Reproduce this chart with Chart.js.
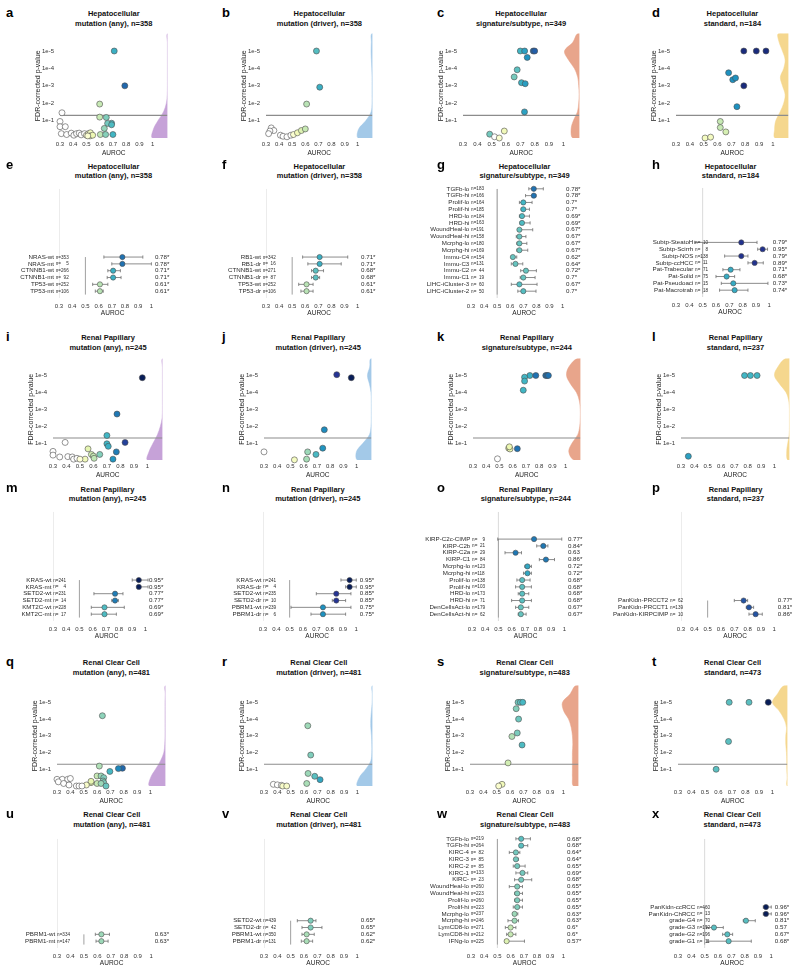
<!DOCTYPE html>
<html>
<head>
<meta charset="utf-8">
<script src="https://cdn.jsdelivr.net/npm/chart.js@4.4.1/dist/chart.umd.min.js"></script>
<style>
  html, body { margin: 0; padding: 0; background: #fff; }
  #figure { position: relative; width: 800px; height: 971px; overflow: hidden; font-family: "Liberation Sans", Arial, Helvetica, sans-serif; }
  #figure canvas { position: absolute; }
  .letter { position: absolute; font-weight: bold; font-size: 13px; line-height: 13px; color: #000; }
  .title { position: absolute; text-align: center; font-weight: bold; font-size: 7.5px; line-height: 9.4px; color: #111; white-space: nowrap; }
</style>
</head>
<body>
<div id="figure"></div>
<script>
// ---------- shared axis values ----------
const X_TICKS = [0.3, 0.4, 0.5, 0.6, 0.7, 0.8, 0.9, 1];
const P_TICKS = [1, 2, 3, 4, 5];            // -log10 p, labelled 1e-1 ... 1e-5
const VIOLIN_LEVELS = [0, 0.5, 1, 1.5, 2, 2.5, 3, 3.5, 4, 4.5, 5, 5.5, 6];
const P_THRESHOLD = 1.301;                  // -log10(0.05)

// ---------- scatter panels: AUROC vs -log10(FDR p) ----------
// a  Hepatocellular, mutation (any)
const aAuroc = [0.71, 0.79, 0.60, 0.60, 0.65, 0.69, 0.66, 0.69, 0.635, 0.605, 0.645, 0.70, 0.315, 0.30, 0.30, 0.34, 0.31, 0.35, 0.385, 0.405, 0.425, 0.445, 0.46, 0.485, 0.50, 0.515, 0.53, 0.527, 0.547, 0.51];
const aLogP  = [5.0, 3.0, 1.95, 1.2, 1.18, 0.85, 0.84, 0.76, 0.55, 0.2, 0.2, 0.2, 1.45, 0.95, 0.65, 0.65, 0.25, 0.2, 0.28, 0.16, 0.25, 0.28, 0.18, 0.25, 0.16, 0.25, 0.3, 0.12, 0.16, 0.12];
const aViolin = [0.113, 0.106, 0.071, 0.030, 0.008, 0.001, 0, 0, 0, 0, 0, 0, 0];
// b  Hepatocellular, mutation (driver)
const bAuroc = [0.685, 0.71, 0.61, 0.34, 0.36, 0.33, 0.32, 0.41, 0.43, 0.46, 0.49, 0.51, 0.54, 0.57, 0.60];
const bLogP  = [5.0, 2.92, 1.95, 0.58, 0.43, 0.4, 0.25, 0.16, 0.1, 0.07, 0.16, 0.2, 0.3, 0.43, 0.52];
const bViolin = [0.108, 0.106, 0.05, 0.01, 0.003, 0.003, 0.003, 0.003, 0.005, 0.008, 0.01, 0.008, 0.005];
// c  Hepatocellular, signature/subtype
const cAuroc = [0.70, 0.73, 0.79, 0.80, 0.748, 0.678, 0.657, 0.708, 0.734, 0.729, 0.486, 0.52, 0.553, 0.588];
const cLogP  = [5, 5, 5, 5, 4.63, 3.92, 3.51, 3.18, 3.12, 1.5, 0.22, 0.07, 0.0, 0.4];
const cTone  = [0.70, 0.73, 0.79, 0.80, 0.748, 0.678, 0.657, 0.708, 0.734, 0.729, 0.66, 0.49, 0.51, 0.54];
const cViolin = [0.046, 0.058, 0.042, 0.014, 0.005, 0.002, 0.005, 0.012, 0.035, 0.077, 0.104, 0.046, 0.012];
// d  Hepatocellular, standard
const dAuroc = [0.79, 0.88, 0.95, 0.68, 0.71, 0.73, 0.79, 0.74, 0.62, 0.62, 0.66, 0.51, 0.55];
const dLogP  = [5, 5, 5, 3.75, 3.35, 3.45, 3.0, 1.8, 0.95, 0.6, 0.35, 0.0, 0.05];
const dTone  = [0.87, 0.87, 0.87, 0.75, 0.75, 0.75, 0.87, 0.75, 0.6, 0.6, 0.58, 0.53, 0.53];
const dViolin = [0.096, 0.100, 0.091, 0.060, 0.034, 0.024, 0.043, 0.058, 0.034, 0.024, 0.043, 0.067, 0.072];
// i  Renal Papillary, mutation (any)
const iAuroc = [0.963, 0.775, 0.70, 0.70, 0.71, 0.835, 0.77, 0.745, 0.647, 0.56, 0.585, 0.60, 0.605, 0.538, 0.39, 0.30, 0.30, 0.35, 0.41, 0.443, 0.453, 0.478, 0.50];
const iLogP  = [4.87, 2.72, 1.45, 0.96, 0.81, 1.04, 0.48, 0.05, 0.33, 0.66, 0.33, 0.23, 0.1, 0.05, 1.04, 0.51, 0.29, 0.18, 0.2, 0.18, 0.05, 0.1, 0.05];
const iViolin = [0.111, 0.099, 0.069, 0.037, 0.015, 0.002, 0, 0, 0, 0, 0, 0, 0];
// j  Renal Papillary, mutation (driver)
const jAuroc = [0.85, 0.96, 0.756, 0.744, 0.693, 0.63, 0.622, 0.53, 0.30];
const jLogP  = [5.05, 4.87, 1.79, 0.7, 0.33, 0.48, 0.05, 0.01, 0.48];
const jViolin = [0.105, 0.113, 0.063, 0.015, 0.003, 0.001, 0.001, 0.001, 0.003, 0.015, 0.030, 0.013, 0.005];
// k  Renal Papillary, signature/subtype
const kAuroc = [0.73, 0.775, 0.85, 0.86, 0.87, 0.69, 0.69, 0.68, 0.635, 0.57, 0.58, 0.575, 0.485];
const kLogP  = [5, 5, 5, 5, 5, 4.9, 4.67, 4.13, 0.67, 0.7, 0.65, 0.78, 0.07];
const kTone  = [0.71, 0.78, 0.78, 0.78, 0.78, 0.70, 0.70, 0.70, 0.78, 0.55, 0.55, 0.55, 0.485];
const kViolin = [0.050, 0.088, 0.063, 0.020, 0.005, 0.001, 0.001, 0.008, 0.030, 0.075, 0.105, 0.088, 0.025];
// l  Renal Papillary, standard
const lAuroc = [0.776, 0.82, 0.87, 0.355];
const lLogP  = [5, 5, 5, 0.22];
const lTone  = [0.70, 0.70, 0.70, 0.73];
const lViolin = [0.012, 0.020, 0.012, 0.002, 0, 0, 0, 0.005, 0.025, 0.074, 0.112, 0.087, 0.030];
// q  Renal Clear Cell, mutation (any)
const qAuroc = [0.64, 0.617, 0.79, 0.76, 0.696, 0.60, 0.63, 0.65, 0.645, 0.65, 0.60, 0.63, 0.667, 0.555, 0.555, 0.52, 0.30, 0.34, 0.38, 0.40, 0.31, 0.35, 0.39, 0.445, 0.465, 0.487];
const qLogP  = [4.2, 1.19, 1.06, 1.04, 0.87, 0.6, 0.6, 0.5, 0.3, 0.2, 0.15, 0.15, 0.0, 0.2, 0.28, 0.06, 0.4, 0.4, 0.4, 0.45, 0.25, 0.15, 0.06, 0.0, 0.0, 0.0];
const qViolin = [0.119, 0.111, 0.074, 0.037, 0.012, 0.005, 0.003, 0.003, 0.003, 0.003, 0.003, 0.001, 0.001];
// r  Renal Clear Cell, mutation (driver)
const rAuroc = [0.628, 0.65, 0.63, 0.68, 0.72, 0.62, 0.37, 0.40, 0.43, 0.44, 0.47];
const rLogP  = [3.6, 1.85, 0.75, 0.58, 0.38, 0.15, 0.1, 0.07, 0.04, 0.0, 0.0];
const rTone  = [0.628, 0.65, 0.63, 0.68, 0.72, 0.62, 0.37, 0.40, 0.43, 0.52, 0.52];
const rViolin = [0.112, 0.099, 0.050, 0.012, 0.005, 0.005, 0.007, 0.012, 0.012, 0.007, 0.002, 0.001, 0.001];
// s  Renal Clear Cell, signature/subtype
const sAuroc = [0.66, 0.677, 0.695, 0.646, 0.664, 0.654, 0.614, 0.69, 0.585, 0.54, 0.515];
const sLogP  = [5, 5, 5, 4.62, 4.0, 3.17, 2.96, 2.45, 1.38, 0.1, 0.0];
const sViolin = [0.037, 0.045, 0.045, 0.045, 0.045, 0.042, 0.045, 0.054, 0.074, 0.111, 0.119, 0.062, 0.020];
// t  Renal Clear Cell, standard
const tAuroc = [0.68, 0.827, 0.97, 0.675, 0.583];
const tLogP  = [5, 5, 5, 2.66, 1.0];
const tTone  = [0.68, 0.68, 0.97, 0.68, 0.68];
const tViolin = [0.002, 0.002, 0.005, 0.005, 0.007, 0.012, 0.012, 0.007, 0.025, 0.062, 0.111, 0.074, 0.025];

// ---------- forest panels: AUROC with 95% CI per class ----------
const eLabels = ['NRAS-wt', 'NRAS-mt', 'CTNNB1-wt', 'CTNNB1-mt', 'TP53-wt', 'TP53-mt'];
const eN      = [353, 5, 266, 92, 252, 106];
const eAuroc  = [0.78, 0.78, 0.71, 0.71, 0.61, 0.61];
const eLow    = [0.64, 0.70, 0.67, 0.665, 0.555, 0.575];
const eHigh   = [0.935, 1.0, 0.765, 0.77, 0.67, 0.635];
const eSig    = [1, 1, 1, 1, 1, 1];

const fLabels = ['RB1-wt', 'RB1-dr', 'CTNNB1-wt', 'CTNNB1-dr', 'TP53-wt', 'TP53-dr'];
const fN      = [342, 16, 271, 87, 252, 106];
const fAuroc  = [0.71, 0.71, 0.68, 0.68, 0.61, 0.61];
const fLow    = [0.58, 0.62, 0.648, 0.648, 0.55, 0.567];
const fHigh   = [0.925, 0.875, 0.74, 0.71, 0.66, 0.66];
const fSig    = [1, 1, 1, 1, 1, 1];

const gLabels = ['TGFb-lo', 'TGFb-hi', 'Prolif-lo', 'Prolif-hi', 'HRD-lo', 'HRD-hi', 'WoundHeal-lo', 'WoundHeal-hi', 'Mcrphg-lo', 'Mcrphg-hi', 'Immu-C4', 'Immu-C3', 'Immu-C2', 'Immu-C1', 'LIHC-iCluster-3', 'LIHC-iCluster-2'];
const gN      = [183, 166, 164, 185, 184, 163, 191, 158, 180, 169, 154, 131, 44, 19, 60, 50];
const gAuroc  = [0.78, 0.78, 0.7, 0.7, 0.69, 0.69, 0.67, 0.67, 0.67, 0.67, 0.62, 0.64, 0.72, 0.7, 0.67, 0.7];
const gLow    = [0.742, 0.717, 0.67, 0.684, 0.67, 0.676, 0.658, 0.646, 0.65, 0.65, 0.615, 0.608, 0.68, 0.676, 0.608, 0.658];
const gHigh   = [0.853, 0.797, 0.767, 0.747, 0.747, 0.752, 0.772, 0.72, 0.727, 0.734, 0.65, 0.696, 0.80, 0.79, 0.805, 0.797];
const gSig    = [1, 1, 1, 1, 1, 1, 1, 1, 1, 1, 1, 1, 1, 1, 1, 1];

const hLabels = ['Subtp-SteatoH', 'Subtp-Scirrh', 'Subtp-NOS', 'Subtp-ccHCC', 'Pat-Trabecular', 'Pat-Solid', 'Pat-Pseudoaci', 'Pat-Macrotrab'];
const hN      = [10, 8, 138, 11, 71, 75, 15, 18];
const hAuroc  = [0.79, 0.95, 0.79, 0.89, 0.71, 0.68, 0.73, 0.74];
const hLow    = [0.44, 0.913, 0.665, 0.84, 0.652, 0.60, 0.64, 0.627];
const hHigh   = [0.908, 0.987, 0.84, 0.955, 0.78, 0.74, 0.99, 0.84];
const hSig    = [1, 1, 1, 1, 1, 1, 1, 1];

const mLabels = ['KRAS-wt', 'KRAS-mt', 'SETD2-wt', 'SETD2-mt', 'KMT2C-wt', 'KMT2C-mt'];
const mN      = [241, 4, 231, 14, 228, 17];
const mAuroc  = [0.95, 0.95, 0.77, 0.77, 0.69, 0.69];
const mLow    = [0.90, 0.945, 0.61, 0.745, 0.59, 0.59];
const mHigh   = [1.02, 1.02, 0.83, 0.795, 0.84, 0.78];
const mSig    = [1, 1, 1, 1, 1, 1];

const nLabels = ['KRAS-wt', 'KRAS-dr', 'SETD2-wt', 'SETD2-dr', 'PBRM1-wt', 'PBRM1-dr'];
const nN      = [241, 4, 235, 10, 239, 6];
const nAuroc  = [0.95, 0.95, 0.85, 0.85, 0.75, 0.75];
const nLow    = [0.885, 0.92, 0.70, 0.82, 0.51, 0.66];
const nHigh   = [1.0, 1.0, 0.96, 0.92, 0.96, 0.92];
const nSig    = [1, 1, 1, 1, 1, 1];

const oLabels = ['KIRP-C2c-CIMP', 'KIRP-C2b', 'KIRP-C2a', 'KIRP-C1', 'Mcrphg-lo', 'Mcrphg-hi', 'Prolif-lo', 'Prolif-hi', 'HRD-lo', 'HRD-hi', 'DenCellsAct-lo', 'DenCellsAct-hi'];
const oN      = [9, 21, 29, 84, 123, 118, 138, 103, 173, 71, 179, 62];
const oAuroc  = [0.77, 0.84, 0.63, 0.86, 0.72, 0.72, 0.68, 0.68, 0.68, 0.68, 0.67, 0.67];
const oLow    = [0.495, 0.79, 0.55, 0.81, 0.70, 0.69, 0.64, 0.63, 0.65, 0.60, 0.63, 0.65];
const oHigh   = [0.98, 0.875, 0.675, 0.925, 0.75, 0.75, 0.74, 0.75, 0.73, 0.75, 0.73, 0.71];
const oSig    = [1, 1, 0, 1, 1, 1, 1, 1, 1, 1, 1, 1];

const pLabels = ['PanKidn-PRCCT2', 'PanKidn-PRCCT1', 'PanKidn-KIRPCIMP'];
const pN      = [62, 139, 10];
const pAuroc  = [0.77, 0.81, 0.86];
const pLow    = [0.70, 0.79, 0.81];
const pHigh   = [0.80, 0.845, 0.91];
const pSig    = [1, 1, 1];

const uLabels = ['PBRM1-wt', 'PBRM1-mt'];
const uN      = [334, 147];
const uAuroc  = [0.63, 0.63];
const uLow    = [0.585, 0.59];
const uHigh   = [0.69, 0.68];
const uSig    = [1, 1];

const vLabels = ['SETD2-wt', 'SETD2-dr', 'PBRM1-wt', 'PBRM1-dr'];
const vN      = [439, 42, 350, 131];
const vAuroc  = [0.65, 0.65, 0.62, 0.62];
const vLow    = [0.55, 0.585, 0.585, 0.58];
const vHigh   = [0.69, 0.735, 0.677, 0.665];
const vSig    = [1, 1, 1, 1];

const wLabels = ['TGFb-lo', 'TGFb-hi', 'KIRC-4', 'KIRC-3', 'KIRC-2', 'KIRC-1', 'KIRC-', 'WoundHeal-lo', 'WoundHeal-hi', 'Prolif-lo', 'Prolif-hi', 'Mcrphg-lo', 'Mcrphg-hi', 'LymCD8-lo', 'LymCD8-hi', 'IFNg-lo'];
const wN      = [219, 264, 82, 85, 85, 133, 23, 260, 223, 260, 223, 237, 246, 271, 212, 225];
const wAuroc  = [0.68, 0.68, 0.64, 0.64, 0.65, 0.69, 0.68, 0.65, 0.65, 0.65, 0.65, 0.63, 0.63, 0.6, 0.6, 0.57];
const wLow    = [0.64, 0.67, 0.59, 0.63, 0.62, 0.64, 0.63, 0.59, 0.63, 0.63, 0.62, 0.62, 0.58, 0.56, 0.57, 0.555];
const wHigh   = [0.75, 0.73, 0.67, 0.66, 0.71, 0.73, 0.76, 0.69, 0.69, 0.69, 0.69, 0.655, 0.66, 0.64, 0.64, 0.705];
const wSig    = [1, 1, 1, 1, 1, 1, 1, 1, 1, 1, 1, 1, 1, 1, 1, 1];

const xLabels = ['PanKidn-ccRCC', 'PanKidn-ChRCC', 'grade-G4', 'grade-G3', 'grade-G2', 'grade-G1'];
const xN      = [460, 13, 70, 192, 196, 11];
const xAuroc  = [0.96, 0.96, 0.81, 0.57, 0.67, 0.68];
const xLow    = [0.94, 0.94, 0.79, 0.515, 0.635, 0.52];
const xHigh   = [1.0, 1.0, 0.88, 0.64, 0.71, 0.85];
const xSig    = [1, 1, 1, 0, 1, 1];

// ---------- styling ----------
const FONT = '"Liberation Sans", Arial, Helvetica, sans-serif';
const X_MIN = 0.3;
const X_MAX = 1.112;
const YLGNBU = ['#ffffd9', '#edf8b1', '#c7e9b4', '#7fcdbb', '#41b6c4', '#1d91c0', '#225ea8', '#253494', '#081d58'];
const VIOLIN_COLORS = { any: '#c6a2d8', driver: '#a3c9e8', signature: '#e8a58b', standard: '#f5d78e' };

const SC_LEFT = 62;     // room left of plot for p-value ticks and title
const PAD_TOP = 4;
const PAD_RIGHT = 4;
const AXIS_H = 22;      // room under plot for AUROC ticks and title
const F_LEFT = 68;      // room left of forest plot for row names
const ROW = 6.85;       // forest row pitch, px
const F_SLOTS = 16;

function hexToRgb(h) {
  const n = parseInt(h.slice(1), 16);
  return [(n >> 16) & 255, (n >> 8) & 255, n & 255];
}

// map an AUROC-like tone onto YlGnBu, white below 0.5
function toneColor(v) {
  if (v < 0.5) return '#ffffff';
  const t = Math.min(1, (v - 0.5) / 0.4) * (YLGNBU.length - 1);
  const i = Math.min(YLGNBU.length - 2, Math.floor(t));
  const f = t - i;
  const a = hexToRgb(YLGNBU[i]);
  const b = hexToRgb(YLGNBU[i + 1]);
  return 'rgb(' + a.map((c, k) => Math.round(c + (b[k] - c) * f)).join(',') + ')';
}

// forest dots are coloured by the mean AUROC of their variable (label prefix)
function groupTones(labels, auroc) {
  const groups = {};
  labels.forEach((l, i) => {
    const g = l.split('-')[0];
    (groups[g] = groups[g] || []).push(auroc[i]);
  });
  return labels.map(l => {
    const vals = groups[l.split('-')[0]];
    return vals.reduce((s, v) => s + v, 0) / vals.length;
  });
}

const figure = document.getElementById('figure');

function addCanvas(left, top, width, height) {
  const c = document.createElement('canvas');
  const w = Math.round(width), h = Math.round(height);
  c.width = w; c.height = h;
  c.style.left = Math.round(left) + 'px';
  c.style.top = Math.round(top) + 'px';
  c.style.width = w + 'px';
  c.style.height = h + 'px';
  figure.appendChild(c);
  return c;
}

function addText(cls, html, left, top, width) {
  const d = document.createElement('div');
  d.className = cls;
  d.innerHTML = html;
  d.style.left = left + 'px';
  d.style.top = top + 'px';
  if (width) d.style.width = width + 'px';
  figure.appendChild(d);
}

function xAxis(tickPad, titlePad) {
  return {
    type: 'linear', min: X_MIN, max: X_MAX,
    grid: { display: false, drawTicks: false, tickLength: 0 }, border: { display: false },
    afterBuildTicks: s => { s.ticks = X_TICKS.map(v => ({ value: v })); },
    afterFit: s => { s.height = AXIS_H; },
    ticks: {
      autoSkip: false, maxRotation: 0, padding: tickPad, color: '#333',
      font: { size: 6, family: FONT },
      callback: v => (v === 1 ? '1' : v.toFixed(1))
    },
    title: { display: true, text: 'AUROC', color: '#222', font: { size: 6.5, family: FONT }, padding: { top: 0, bottom: titlePad } }
  };
}

function baseOptions(padding) {
  return {
    responsive: false, animation: false, events: [],
    layout: { padding },
    plugins: { legend: { display: false }, tooltip: { enabled: false }, title: { display: false } }
  };
}

/**
 * Volcano-style scatter: AUROC vs FDR p-value with a half violin on the right
 */
function makeScatter(p) {
  const scale = (p.x1 - p.x03) / 0.7;
  const plotW = (X_MAX - X_MIN) * scale;
  const plotH = p.bottom - p.top;
  const canvas = addCanvas(p.x03 - SC_LEFT, p.top - PAD_TOP, SC_LEFT + plotW + PAD_RIGHT, PAD_TOP + plotH + AXIS_H);

  const tones = p.tone || p.auroc;
  const points = p.auroc.map((a, i) => ({ x: a, y: p.logp[i] }));
  const violin = [{ x: X_MAX + 0.05, y: 0 }]
    .concat(VIOLIN_LEVELS.map((lv, i) => ({ x: X_MAX - p.violin[i], y: lv })))
    .concat([{ x: X_MAX + 0.05, y: 6 }]);

  const options = baseOptions({ left: 0, top: PAD_TOP, right: PAD_RIGHT, bottom: 0 });
  options.scales = {
    x: xAxis(3, 3),
    y: {
      type: 'linear', min: 0, max: 6,
      grid: { display: false, drawTicks: false, tickLength: 0 }, border: { display: false },
      afterBuildTicks: s => { s.ticks = P_TICKS.map(v => ({ value: v })); },
      afterFit: s => { s.width = SC_LEFT; },
      ticks: { padding: 6, color: '#333', font: { size: 6, family: FONT }, callback: v => '1e-' + v },
      title: { display: true, text: 'FDR-corrected p-value', color: '#222', font: { size: 7, family: FONT }, padding: { top: SC_LEFT - 22 - 4.2, bottom: 0 } }
    }
  };

  new Chart(canvas, {
    type: 'line',
    data: {
      datasets: [
        { data: points, showLine: false, clip: false, order: 0,
          pointRadius: 3, pointBackgroundColor: tones.map(toneColor), pointBorderColor: '#4d4d4d', pointBorderWidth: 0.6 },
        { data: [{ x: X_MIN, y: P_THRESHOLD }, { x: X_MAX, y: P_THRESHOLD }], order: 1,
          borderColor: '#8c8c8c', borderWidth: 1.2, pointRadius: 0 },
        { data: violin, order: 2, fill: 'shape', tension: 0.35,
          backgroundColor: VIOLIN_COLORS[p.kind], borderColor: VIOLIN_COLORS[p.kind], borderWidth: 0.5, pointRadius: 0 }
      ]
    },
    options
  });
}

// draws row names, n= counts and AUROC values next to the forest rows
function rowTextPlugin(p) {
  return {
    id: 'rowText',
    afterDatasetsDraw(chart) {
      const { ctx } = chart;
      const xs = chart.scales.x, ys = chart.scales.y;
      const nameX = xs.getPixelForValue(X_MIN) + p.nameDx;
      const valueX = xs.getPixelForValue(1) + 3.5;
      const count = p.labels.length;
      ctx.save();
      ctx.textBaseline = 'middle';
      p.labels.forEach((label, i) => {
        const py = ys.getPixelForValue(count - i);
        ctx.fillStyle = '#2b2b2b';
        ctx.font = '6.2px ' + FONT;
        ctx.textAlign = 'right';
        ctx.fillText(label, nameX, py);
        ctx.textAlign = 'left';
        ctx.fillText(String(+p.auroc[i].toFixed(2)) + (p.sig[i] ? '*' : ''), valueX, py);
        const pad = p.n[i] < 10 ? '    ' : (p.n[i] < 100 ? '  ' : '');
        ctx.font = '4.6px ' + FONT;
        ctx.fillText('n=' + pad + p.n[i], nameX + 1.8, py + 0.3);
      });
      ctx.restore();
    }
  };
}

/**
 * Forest plot: AUROC with CI per class, rows stacked from the bottom
 */
function makeForest(p) {
  const scale = (p.x1 - p.x03) / 0.7;
  const plotW = (X_MAX - X_MIN) * scale;
  const chartTop = p.bottomRow - (F_SLOTS - 1) * ROW;
  const canvas = addCanvas(p.x03 - F_LEFT, chartTop - PAD_TOP, F_LEFT + plotW + PAD_RIGHT, PAD_TOP + F_SLOTS * ROW + AXIS_H);

  const count = p.labels.length;
  const rowY = i => count - i;
  const tones = groupTones(p.labels, p.auroc);

  const datasets = [
    { data: p.auroc.map((a, i) => ({ x: a, y: rowY(i) })), showLine: false, clip: false, order: 0,
      pointRadius: 2.6, pointBackgroundColor: tones.map(toneColor), pointBorderColor: '#4d4d4d', pointBorderWidth: 0.6 },
    { data: p.low.map((v, i) => ({ x: v, y: rowY(i) })).concat(p.high.map((v, i) => ({ x: v, y: rowY(i) }))),
      showLine: false, clip: false, order: 1,
      pointStyle: 'line', rotation: 90, pointRadius: 1.6, pointBorderColor: '#6e6e6e', pointBorderWidth: 0.8 }
  ];
  p.low.forEach((lo, i) => {
    datasets.push({ data: [{ x: lo, y: rowY(i) }, { x: p.high[i], y: rowY(i) }], clip: false, order: 2,
      borderColor: '#6e6e6e', borderWidth: 0.8, pointRadius: 0 });
  });
  datasets.push({ data: [{ x: 0.5, y: 0.5 }, { x: 0.5, y: count }], order: 3,
    borderColor: '#a0a0a0', borderWidth: 1, pointRadius: 0 });
  datasets.push({ data: [{ x: p.axisAt, y: 0 }, { x: p.axisAt, y: F_SLOTS }], order: 4,
    borderColor: '#dadada', borderWidth: 1, pointRadius: 0 });

  const options = baseOptions({ left: F_LEFT, top: PAD_TOP, right: PAD_RIGHT, bottom: 0 });
  options.scales = {
    x: xAxis(5, 2.5),
    y: { type: 'linear', display: false, min: 0, max: F_SLOTS }
  };

  new Chart(canvas, { type: 'line', data: { datasets }, options, plugins: [rowTextPlugin(p)] });
}

// ---------- layout of the 24 panels ----------
const COL_LETTER_X = [6, 222, 437, 652];
const ROWS = [
  { title1: 14, cancer: 'Hepatocellular', ns: ['n=358', 'n=358', 'n=349', 'n=184'] },
  { title1: 166.5, cancer: 'Hepatocellular', ns: ['n=358', 'n=358', 'n=349', 'n=184'] },
  { title1: 338, cancer: 'Renal Papillary', ns: ['n=245', 'n=245', 'n=244', 'n=237'] },
  { title1: 489.3, cancer: 'Renal Papillary', ns: ['n=245', 'n=245', 'n=244', 'n=237'] },
  { title1: 663, cancer: 'Renal Clear Cell', ns: ['n=481', 'n=481', 'n=483', 'n=473'] },
  { title1: 815, cancer: 'Renal Clear Cell', ns: ['n=481', 'n=481', 'n=483', 'n=473'] }
];
const KINDS = ['any', 'driver', 'signature', 'standard'];
const KIND_TEXT = { any: 'mutation (any)', driver: 'mutation (driver)', signature: 'signature/subtype', standard: 'standard' };

const scatterPanels = [
  { letter: 'a', row: 0, col: 0, x03: 60, x1: 152.7, top: 28.4, bottom: 137.9, auroc: aAuroc, logp: aLogP, violin: aViolin },
  { letter: 'b', row: 0, col: 1, x03: 265.7, x1: 358.3, top: 28.4, bottom: 137.9, auroc: bAuroc, logp: bLogP, violin: bViolin },
  { letter: 'c', row: 0, col: 2, x03: 462.7, x1: 563.3, top: 28.4, bottom: 137.9, auroc: cAuroc, logp: cLogP, tone: cTone, violin: cViolin },
  { letter: 'd', row: 0, col: 3, x03: 676, x1: 773.3, top: 28.4, bottom: 137.9, auroc: dAuroc, logp: dLogP, tone: dTone, violin: dViolin },
  { letter: 'i', row: 2, col: 0, x03: 53.3, x1: 147.7, top: 352.9, bottom: 459.8, auroc: iAuroc, logp: iLogP, violin: iViolin },
  { letter: 'j', row: 2, col: 1, x03: 264.3, x1: 357.3, top: 352.9, bottom: 459.8, auroc: jAuroc, logp: jLogP, violin: jViolin },
  { letter: 'k', row: 2, col: 2, x03: 472.7, x1: 566, top: 352.9, bottom: 459.8, auroc: kAuroc, logp: kLogP, tone: kTone, violin: kViolin },
  { letter: 'l', row: 2, col: 3, x03: 681, x1: 775, top: 352.9, bottom: 459.8, auroc: lAuroc, logp: lLogP, tone: lTone, violin: lViolin },
  { letter: 'q', row: 4, col: 0, x03: 56.7, x1: 151, top: 679.6, bottom: 785.7, auroc: qAuroc, logp: qLogP, violin: qViolin },
  { letter: 'r', row: 4, col: 1, x03: 264.3, x1: 358.3, top: 679.6, bottom: 785.7, auroc: rAuroc, logp: rLogP, tone: rTone, violin: rViolin },
  { letter: 's', row: 4, col: 2, x03: 470, x1: 564.3, top: 679.6, bottom: 785.7, auroc: sAuroc, logp: sLogP, violin: sViolin },
  { letter: 't', row: 4, col: 3, x03: 677.7, x1: 772.3, top: 679.6, bottom: 785.7, auroc: tAuroc, logp: tLogP, tone: tTone, violin: tViolin }
];

const forestPanels = [
  { letter: 'e', row: 1, col: 0, x03: 59.3, x1: 152.7, bottomRow: 290.3, axisAt: 0.3, nameDx: -5, labels: eLabels, n: eN, auroc: eAuroc, low: eLow, high: eHigh, sig: eSig },
  { letter: 'f', row: 1, col: 1, x03: 265.7, x1: 358.3, bottomRow: 290.3, axisAt: 0.3, nameDx: -5, labels: fLabels, n: fN, auroc: fAuroc, low: fLow, high: fHigh, sig: fSig },
  { letter: 'g', row: 1, col: 2, x03: 471, x1: 563.3, bottomRow: 290.3, axisAt: 0.5, nameDx: -1.7, labels: gLabels, n: gN, auroc: gAuroc, low: gLow, high: gHigh, sig: gSig },
  { letter: 'h', row: 1, col: 3, x03: 676, x1: 770, bottomRow: 290.0, axisAt: 0.5, nameDx: 17.3, labels: hLabels, n: hN, auroc: hAuroc, low: hLow, high: hHigh, sig: hSig },
  { letter: 'm', row: 3, col: 0, x03: 53.3, x1: 146.7, bottomRow: 613.7, axisAt: 0.3, nameDx: -1.6, labels: mLabels, n: mN, auroc: mAuroc, low: mLow, high: mHigh, sig: mSig },
  { letter: 'n', row: 3, col: 1, x03: 263.3, x1: 357.3, bottomRow: 613.7, axisAt: 0.3, nameDx: -1.6, labels: nLabels, n: nN, auroc: nAuroc, low: nLow, high: nHigh, sig: nSig },
  { letter: 'o', row: 3, col: 2, x03: 471.7, x1: 565, bottomRow: 613.7, axisAt: 0.5, nameDx: -1.7, labels: oLabels, n: oN, auroc: oAuroc, low: oLow, high: oHigh, sig: oSig },
  { letter: 'p', row: 3, col: 3, x03: 681, x1: 775, bottomRow: 613.7, axisAt: 0.3, nameDx: -12.7, labels: pLabels, n: pN, auroc: pAuroc, low: pLow, high: pHigh, sig: pSig },
  { letter: 'u', row: 5, col: 0, x03: 56.7, x1: 151.7, bottomRow: 940.3, axisAt: 0.3, nameDx: -1.7, labels: uLabels, n: uN, auroc: uAuroc, low: uLow, high: uHigh, sig: uSig },
  { letter: 'v', row: 5, col: 1, x03: 264.3, x1: 358.3, bottomRow: 940.3, axisAt: 0.3, nameDx: -2.6, labels: vLabels, n: vN, auroc: vAuroc, low: vLow, high: vHigh, sig: vSig },
  { letter: 'w', row: 5, col: 2, x03: 471, x1: 564.3, bottomRow: 940.5, axisAt: 0.5, nameDx: -2, labels: wLabels, n: wN, auroc: wAuroc, low: wLow, high: wHigh, sig: wSig },
  { letter: 'x', row: 5, col: 3, x03: 677.7, x1: 771.7, bottomRow: 940.3, axisAt: 0.5, nameDx: 17.3, labels: xLabels, n: xN, auroc: xAuroc, low: xLow, high: xHigh, sig: xSig }
];

function addHeading(p) {
  const row = ROWS[p.row];
  const kind = KINDS[p.col];
  const scale = (p.x1 - p.x03) / 0.7;
  const plotW = (X_MAX - X_MIN) * scale;
  addText('title', row.cancer + '<br>' + KIND_TEXT[kind] + ', ' + row.ns[p.col], p.x03 - 20, row.title1 - 4.7, plotW + 40);
  addText('letter', p.letter, COL_LETTER_X[p.col], row.title1 - 8.5);
}

scatterPanels.forEach(p => {
  p.kind = KINDS[p.col];
  addHeading(p);
  makeScatter(p);
});
forestPanels.forEach(p => {
  addHeading(p);
  makeForest(p);
});
</script>
</body>
</html>
